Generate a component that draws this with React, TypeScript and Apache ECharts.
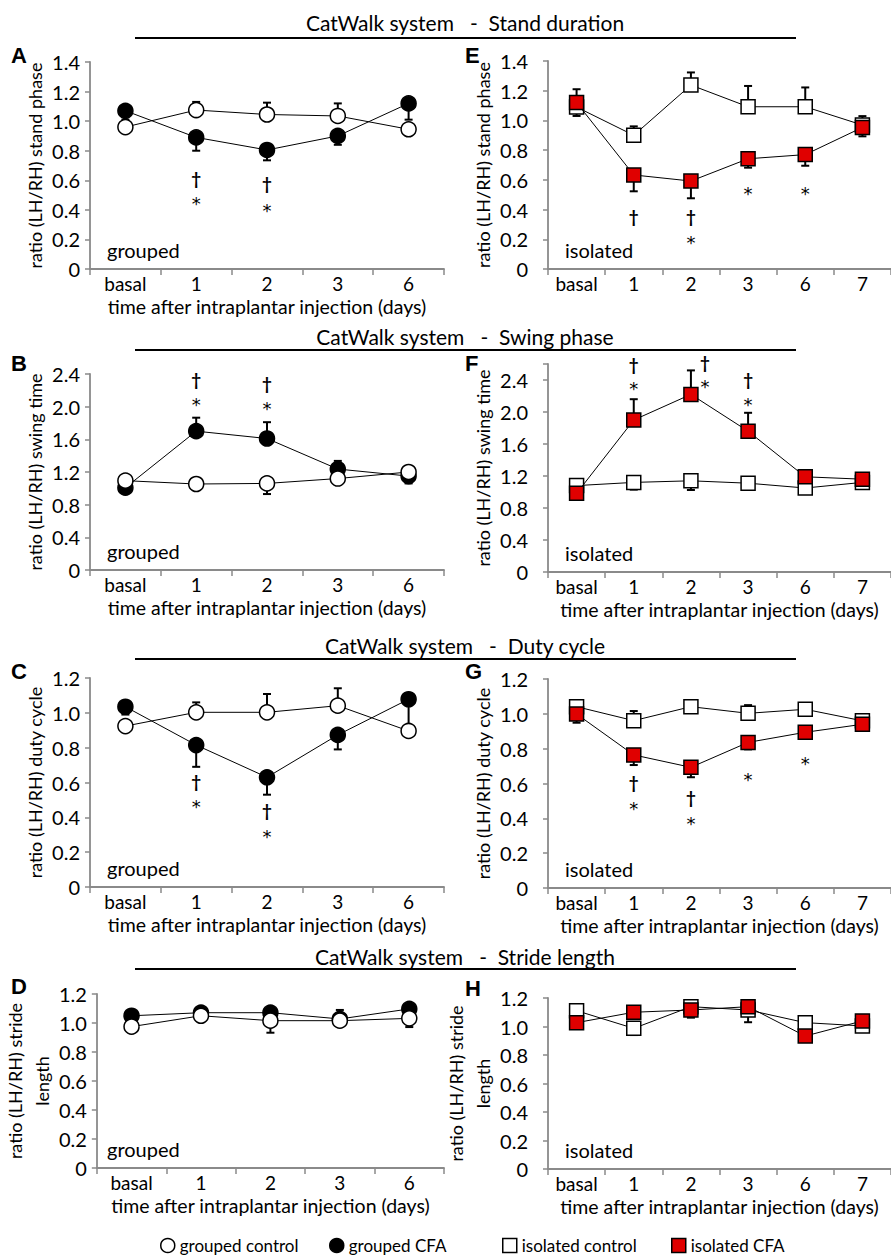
import React, { useEffect, useRef } from 'react';
import * as echarts from 'echarts';

const FONT = 'Lato, "Noto Sans", sans-serif';
const RED = '#e00000';
const AXIS_GRAY = '#8a8a8a';

// ---------- categories ----------
const groupedDays = ['basal', '1', '2', '3', '6'];
const isolatedDays = ['basal', '1', '2', '3', '6', '7'];

// ---------- Stand duration ----------
const standGroupedControl = [0.96, 1.075, 1.045, 1.035, 0.945];
const standGroupedControlErr = [0, 0.055, 0.08, 0.085, 0];
const standGroupedCFA = [1.07, 0.89, 0.805, 0.9, 1.12];
const standGroupedCFAErr = [-0.06, -0.09, -0.07, -0.06, -0.11];
const standIsolatedControl = [1.09, 0.9, 1.238, 1.092, 1.092, 0.969];
const standIsolatedControlErr = [-0.06, 0.06, 0.085, 0.14, 0.13, 0.06];
const standIsolatedCFA = [1.12, 0.633, 0.592, 0.742, 0.77, 0.953];
const standIsolatedCFAErr = [0.09, -0.11, -0.116, -0.06, -0.075, -0.06];

// ---------- Swing phase ----------
const swingGroupedControl = [1.094, 1.053, 1.06, 1.12, 1.2];
const swingGroupedControlErr = [0, 0, -0.13, 0, 0];
const swingGroupedCFA = [1.008, 1.7, 1.61, 1.236, 1.15];
const swingGroupedCFAErr = [0, 0.165, 0.2, 0.1, -0.09];
const swingIsolatedControl = [1.08, 1.12, 1.14, 1.11, 1.05, 1.12];
const swingIsolatedControlErr = [0, -0.09, -0.115, 0, 0, 0];
const swingIsolatedCFA = [0.983, 1.9, 2.22, 1.76, 1.19, 1.16];
const swingIsolatedCFAErr = [0, 0.26, 0.3, 0.23, 0, 0];

// ---------- Duty cycle ----------
const dutyGroupedControl = [0.924, 1.003, 1.003, 1.041, 0.896];
const dutyGroupedControlErr = [0, 0.057, 0.105, 0.1, 0];
const dutyGroupedCFA = [1.035, 0.815, 0.63, 0.873, 1.078];
const dutyGroupedCFAErr = [-0.045, -0.125, -0.1, -0.083, -0.15];
const dutyIsolatedControl = [1.041, 0.961, 1.041, 1.003, 1.026, 0.96];
const dutyIsolatedControlErr = [0, 0.055, 0, 0.047, 0.01, 0.01];
const dutyIsolatedCFA = [0.999, 0.764, 0.693, 0.836, 0.894, 0.94];
const dutyIsolatedCFAErr = [-0.05, -0.058, -0.057, -0.04, -0.02, 0];

// ---------- Stride length ----------
const strideGroupedControl = [0.975, 1.05, 1.016, 1.016, 1.032];
const strideGroupedControlErr = [0, 0, -0.083, 0.074, -0.06];
const strideGroupedCFA = [1.05, 1.071, 1.071, 1.028, 1.097];
const strideGroupedCFAErr = [0, 0.02, 0, 0, 0];
const strideIsolatedControl = [1.111, 0.987, 1.139, 1.116, 1.027, 1.004];
const strideIsolatedControlErr = [0, -0.047, 0, -0.086, 0, 0];
const strideIsolatedCFA = [1.027, 1.1, 1.116, 1.139, 0.933, 1.039];
const strideIsolatedCFAErr = [0, 0, -0.054, 0, 0, 0];

// ---------- significance marks: [category index, value, symbol] ----------
type Mark = [number, number, string];
const standGroupedMarks: Mark[] = [[1, 0.615, '†'], [1, 0.467, '*'], [2, 0.58, '†'], [2, 0.426, '*']];
const standIsolatedMarks: Mark[] = [[1, 0.352, '†'], [2, 0.352, '†'], [2, 0.207, '*'], [3, 0.536, '*'], [4, 0.536, '*']];
const swingGroupedMarks: Mark[] = [[1, 2.335, '†'], [1, 2.08, '*'], [2, 2.286, '†'], [2, 2.03, '*']];
const swingIsolatedMarks: Mark[] = [[1, 2.6, '†'], [1, 2.34, '*'], [2, 2.62, '†'], [2, 2.37, '*'], [3, 2.41, '†'], [3, 2.15, '*']];
const dutyGroupedMarks: Mark[] = [[1, 0.605, '†'], [1, 0.486, '*'], [2, 0.438, '†'], [2, 0.314, '*']];
const dutyIsolatedMarks: Mark[] = [[1, 0.605, '†'], [1, 0.482, '*'], [2, 0.52, '†'], [2, 0.394, '*'], [3, 0.644, '*'], [4, 0.735, '*']];

// ---------- texts ----------
const X_NAME = 'time after intraplantar injection (days)';
const sectionTitles = [
  'CatWalk system   -  Stand duration',
  'CatWalk system   -  Swing phase',
  'CatWalk system   -  Duty cycle',
  'CatWalk system   -  Stride length',
];
const legendNames = ['grouped control', 'grouped CFA', 'isolated control', 'isolated CFA'];

interface Panel {
  letter: string;
  isolated: boolean;
  cats: string[];
  ctrl: number[];
  ctrlErr: number[];
  cfa: number[];
  cfaErr: number[];
  marks: Mark[];
  yName: string;
  max: number;
  labelMax: number;
  interval: number;
  showXName: boolean;
  box: { left: number; top: number; width: number; height: number };
  letterPos: [number, number];
  markShift?: { day: number; dx: number };
}

const LEFT_BOX = { left: 90, width: 354 };
const RIGHT_BOX = { left: 548, width: 351 };

const panels: Panel[] = [
  {
    letter: 'A', isolated: false, cats: groupedDays,
    ctrl: standGroupedControl, ctrlErr: standGroupedControlErr, cfa: standGroupedCFA, cfaErr: standGroupedCFAErr,
    marks: standGroupedMarks, yName: 'ratio (LH/RH) stand phase', max: 1.4, labelMax: 1.4, interval: 0.2,
    showXName: true, box: { ...LEFT_BOX, top: 62, height: 207 }, letterPos: [11, 44],
  },
  {
    letter: 'B', isolated: false, cats: groupedDays,
    ctrl: swingGroupedControl, ctrlErr: swingGroupedControlErr, cfa: swingGroupedCFA, cfaErr: swingGroupedCFAErr,
    marks: swingGroupedMarks, yName: 'ratio (LH/RH) swing time', max: 2.4, labelMax: 2.4, interval: 0.4,
    showXName: true, box: { ...LEFT_BOX, top: 374, height: 196 }, letterPos: [11, 352],
  },
  {
    letter: 'C', isolated: false, cats: groupedDays,
    ctrl: dutyGroupedControl, ctrlErr: dutyGroupedControlErr, cfa: dutyGroupedCFA, cfaErr: dutyGroupedCFAErr,
    marks: dutyGroupedMarks, yName: 'ratio (LH/RH) duty cycle', max: 1.2, labelMax: 1.2, interval: 0.2,
    showXName: true, box: { ...LEFT_BOX, top: 678, height: 209 }, letterPos: [11, 660],
  },
  {
    letter: 'D', isolated: false, cats: groupedDays,
    ctrl: strideGroupedControl, ctrlErr: strideGroupedControlErr, cfa: strideGroupedCFA, cfaErr: strideGroupedCFAErr,
    marks: [], yName: 'ratio (LH/RH) stride\nlength', max: 1.2, labelMax: 1.2, interval: 0.2,
    showXName: true, box: { ...LEFT_BOX, top: 994, height: 174 }, letterPos: [11, 975],
  },
  {
    letter: 'E', isolated: true, cats: isolatedDays,
    ctrl: standIsolatedControl, ctrlErr: standIsolatedControlErr, cfa: standIsolatedCFA, cfaErr: standIsolatedCFAErr,
    marks: standIsolatedMarks, yName: 'ratio (LH/RH) stand phase', max: 1.4, labelMax: 1.4, interval: 0.2,
    showXName: false, box: { ...RIGHT_BOX, top: 61, height: 208 }, letterPos: [465, 44],
  },
  {
    letter: 'F', isolated: true, cats: isolatedDays,
    ctrl: swingIsolatedControl, ctrlErr: swingIsolatedControlErr, cfa: swingIsolatedCFA, cfaErr: swingIsolatedCFAErr,
    marks: swingIsolatedMarks, yName: 'ratio (LH/RH) swing time', max: 2.6, labelMax: 2.4, interval: 0.4,
    showXName: true, box: { ...RIGHT_BOX, top: 364, height: 208 }, letterPos: [465, 352],
    markShift: { day: 2, dx: 14 },
  },
  {
    letter: 'G', isolated: true, cats: isolatedDays,
    ctrl: dutyIsolatedControl, ctrlErr: dutyIsolatedControlErr, cfa: dutyIsolatedCFA, cfaErr: dutyIsolatedCFAErr,
    marks: dutyIsolatedMarks, yName: 'ratio (LH/RH) duty cycle', max: 1.2, labelMax: 1.2, interval: 0.2,
    showXName: true, box: { ...RIGHT_BOX, top: 679, height: 209 }, letterPos: [465, 660],
  },
  {
    letter: 'H', isolated: true, cats: isolatedDays,
    ctrl: strideIsolatedControl, ctrlErr: strideIsolatedControlErr, cfa: strideIsolatedCFA, cfaErr: strideIsolatedCFAErr,
    marks: [], yName: 'ratio (LH/RH) stride\nlength', max: 1.2, labelMax: 1.2, interval: 0.2,
    showXName: true, box: { ...RIGHT_BOX, top: 998, height: 171 }, letterPos: [465, 977],
  },
];

const TITLE_CENTERS = [22, 336, 645, 956];
const TITLE_LINES = [38, 350, 659, 969];
const LEGEND_LEFTS = [160, 329, 502, 671];

function errRender(params: any, api: any) {
  const x = api.value(0);
  const v = api.value(1);
  const e = api.value(2);
  if (!e) return null;
  const p0 = api.coord([x, v]);
  const p1 = api.coord([x, v + e]);
  const hw = 4;
  const st = { stroke: '#000', lineWidth: 2 };
  return {
    type: 'group',
    children: [
      { type: 'line', shape: { x1: p0[0], y1: p0[1], x2: p1[0], y2: p1[1] }, style: st },
      { type: 'line', shape: { x1: p1[0] - hw, y1: p1[1], x2: p1[0] + hw, y2: p1[1] }, style: st },
    ],
  };
}

function buildOption() {
  const grid: any[] = [];
  const xAxis: any[] = [];
  const yAxis: any[] = [];
  const series: any[] = [];
  const graphic: any[] = [];

  panels.forEach((p, i) => {
    const right = p.isolated;
    grid.push({ ...p.box });
    xAxis.push({
      type: 'category',
      gridIndex: i,
      data: p.cats,
      boundaryGap: true,
      axisLine: { show: true, lineStyle: { color: AXIS_GRAY, width: 1.8 } },
      axisTick: { show: true, length: 6, lineStyle: { color: AXIS_GRAY, width: 1.5 } },
      axisLabel: { fontSize: 19, fontFamily: FONT, color: '#000', margin: 5 },
      splitLine: { show: false },
      name: p.showXName ? X_NAME : '',
      nameLocation: 'middle',
      nameGap: 27,
      nameTextStyle: { fontSize: 19.5, fontFamily: FONT, color: '#000' },
    });
    yAxis.push({
      type: 'value',
      gridIndex: i,
      min: 0,
      max: p.max,
      interval: p.interval,
      axisLine: { show: true, lineStyle: { color: AXIS_GRAY, width: 1.8 } },
      axisTick: { show: true, length: 5, lineStyle: { color: AXIS_GRAY, width: 1.5 } },
      axisLabel: {
        fontSize: 20,
        fontFamily: FONT,
        color: '#000',
        margin: right ? 20 : 10,
        formatter: (v: number) => (v > p.labelMax + 1e-9 ? '' : v === 0 ? '0' : v.toFixed(1)),
      },
      splitLine: { show: false },
      name: p.yName,
      nameLocation: 'middle',
      nameGap: right ? 45 : 41,
      nameRotate: 90,
      nameTextStyle: { fontSize: 18, fontFamily: FONT, color: '#000', lineHeight: 27 },
    });

    const ctrlName = p.isolated ? 'isolated control' : 'grouped control';
    const cfaName = p.isolated ? 'isolated CFA' : 'grouped CFA';
    const symbol = p.isolated ? 'rect' : 'circle';
    const symbolSize = p.isolated ? 14 : 15;

    series.push({
      type: 'custom',
      name: ctrlName + ' SEM',
      xAxisIndex: i,
      yAxisIndex: i,
      silent: true,
      z: 2,
      itemStyle: { color: '#000' },
      renderItem: errRender,
      data: p.ctrl.map((v, k) => [k, v, p.ctrlErr[k]]),
    });
    series.push({
      type: 'custom',
      name: cfaName + ' SEM',
      xAxisIndex: i,
      yAxisIndex: i,
      silent: true,
      z: 2,
      itemStyle: { color: '#000' },
      renderItem: errRender,
      data: p.cfa.map((v, k) => [k, v, p.cfaErr[k]]),
    });
    series.push({
      type: 'line',
      name: ctrlName,
      xAxisIndex: i,
      yAxisIndex: i,
      data: p.ctrl,
      symbol,
      symbolSize,
      showSymbol: true,
      itemStyle: { color: '#fff', borderColor: '#000', borderWidth: 1.5 },
      lineStyle: { color: '#000', width: 1 },
      emphasis: { disabled: true },
      z: p.isolated ? 3 : 4,
    });
    series.push({
      type: 'line',
      name: cfaName,
      xAxisIndex: i,
      yAxisIndex: i,
      data: p.cfa,
      symbol,
      symbolSize,
      showSymbol: true,
      itemStyle: { color: p.isolated ? RED : '#000', borderColor: '#000', borderWidth: 1.5 },
      lineStyle: { color: '#000', width: 1 },
      emphasis: { disabled: true },
      z: p.isolated ? 4 : 3,
    });
    if (p.marks.length) {
      series.push({
        type: 'custom',
        name: 'significance ' + p.letter,
        xAxisIndex: i,
        yAxisIndex: i,
        silent: true,
        z: 6,
        itemStyle: { color: '#000' },
        data: p.marks.map((m) => [m[0], m[1]]),
        renderItem: (params: any, api: any) => {
          const m = p.marks[params.dataIndex];
          const pt = api.coord([api.value(0), api.value(1)]);
          const dx = p.markShift && m[0] === p.markShift.day ? p.markShift.dx : 0;
          const star = m[2] === '*';
          const dy = star ? 4 : 0;
          const f = star ? '18px "DejaVu Sans", sans-serif' : 'bold 17px ' + FONT;
          return {
            type: 'text',
            x: pt[0] + dx,
            y: pt[1] + dy,
            style: {
              text: m[2],
              font: f,
              textFont: f,
              fill: '#000',
              textFill: '#000',
              align: 'center',
              textAlign: 'center',
              verticalAlign: 'middle',
              textVerticalAlign: 'middle',
            },
          };
        },
      });
    }

    // panel letter
    graphic.push({
      type: 'text',
      x: p.letterPos[0],
      y: p.letterPos[1],
      style: {
        text: p.letter,
        font: 'bold 22px "Liberation Sans", Arial, sans-serif',
        fill: '#000',
        align: 'left',
        verticalAlign: 'top',
      },
    });
    // group label
    graphic.push({
      type: 'text',
      x: p.box.left + 17,
      y: p.box.top + p.box.height - 19,
      style: {
        text: p.isolated ? 'isolated' : 'grouped',
        font: '20px ' + FONT,
        fill: '#000',
        align: 'left',
        verticalAlign: 'middle',
      },
    });
  });

  sectionTitles.forEach((t, k) => {
    graphic.push({
      type: 'text',
      x: 465,
      y: TITLE_CENTERS[k],
      style: { text: t, font: '21px ' + FONT, fill: '#000', align: 'center', verticalAlign: 'middle' },
    });
    graphic.push({
      type: 'line',
      shape: { x1: 135, y1: TITLE_LINES[k], x2: 796, y2: TITLE_LINES[k] },
      style: { stroke: '#000', lineWidth: 2 },
    });
  });

  const legendIcons = ['circle', 'circle', 'rect', 'rect'];
  const legendFills = ['#fff', '#000', '#fff', RED];
  const legend = legendNames.map((n, k) => ({
    left: LEGEND_LEFTS[k],
    top: 1237,
    padding: 0,
    itemWidth: 14,
    itemHeight: 14,
    itemGap: 0,
    selectedMode: false,
    textStyle: { fontSize: 17, fontFamily: FONT, color: '#000' },
    data: [
      {
        name: n,
        icon: legendIcons[k],
        itemStyle: { color: legendFills[k], borderColor: '#000', borderWidth: 1.5 },
      },
    ],
  }));

  return {
    animation: false,
    backgroundColor: '#fff',
    textStyle: { fontFamily: FONT },
    grid,
    xAxis,
    yAxis,
    series,
    legend,
    graphic,
  };
}

export default function App() {
  const ref = useRef<HTMLDivElement>(null);
  useEffect(() => {
    if (!ref.current) return;
    const chart = echarts.init(ref.current, undefined, { renderer: 'svg' });
    chart.setOption(buildOption());
    return () => chart.dispose();
  }, []);
  return (
    <div
      ref={ref}
      style={{ position: 'absolute', left: 0, top: 0, width: 891, height: 1255, background: '#fff' }}
    />
  );
}
